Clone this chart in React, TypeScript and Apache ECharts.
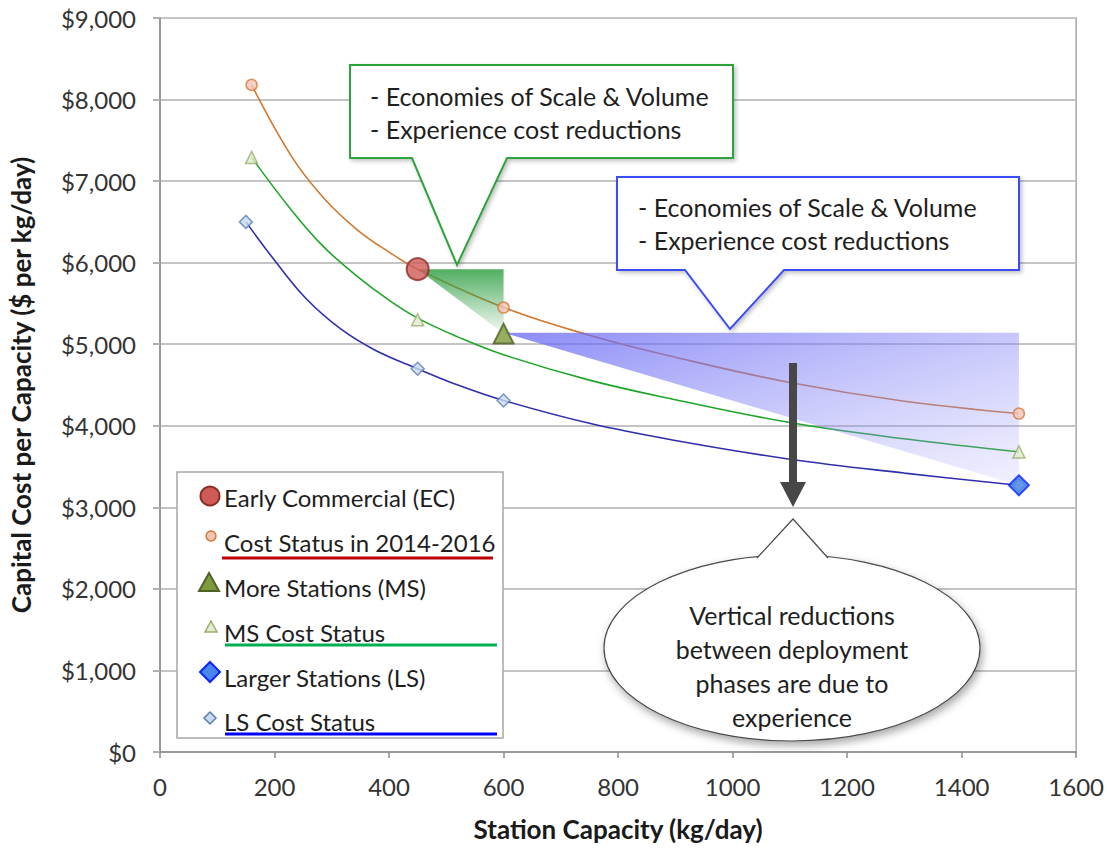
import React, { useEffect, useRef } from "react";
import * as echarts from "echarts";

// ---- data ----
const ecPoint = [[450, 5920]];
const costStatus = [[160, 8180], [600, 5450], [1500, 4150]];
const msPoint = [[600, 5130]];
const msCostStatus = [[160, 7290], [450, 5300], [1500, 3680]];
const lsPoint = [[1500, 3270]];
const lsCostStatus = [[150, 6500], [450, 4700], [600, 4310], [1500, 3270]];

const costTrend = [[160, 8180], [230, 7300], [285, 6800], [345, 6400], [400, 6130], [450, 5920], [600, 5450], [750, 5110], [900, 4840], [1100, 4530], [1300, 4300], [1500, 4150]];
const msTrend = [[160, 7290], [230, 6640], [285, 6200], [345, 5830], [400, 5540], [450, 5320], [520, 5090], [600, 4870], [750, 4560], [900, 4320], [1100, 4040], [1300, 3840], [1500, 3680]];
const lsTrend = [[150, 6500], [200, 6030], [255, 5560], [315, 5190], [375, 4930], [450, 4700], [520, 4500], [600, 4310], [750, 4030], [900, 3820], [1100, 3590], [1300, 3420], [1500, 3270]];

const ecToMsWedge = [[450, 5920], [600, 5920], [600, 5130]];
const msToLsWedge = [[600, 5140], [1500, 5140], [1500, 3270]];

const legendNames = ["Early Commercial (EC)", "Cost Status in 2014-2016", "More Stations (MS)", "MS Cost Status", "Larger Stations (LS)", "LS Cost Status"];
const xTitle = "Station Capacity (kg/day)";
const yTitle = "Capital Cost per Capacity ($ per kg/day)";
const calloutLines = ["- Economies of Scale & Volume", "- Experience cost reductions"];
const ellipseLines = ["Vertical reductions", "between deployment", "phases are due to", "experience"];

const FONT = "Lato, 'Open Sans', sans-serif";

function fmtDollar(v: number) {
  return "$" + String(v).replace(/\B(?=(\d{3})+(?!\d))/g, ",");
}

function wedgeSeries(name: string, pts: number[][], fill: any) {
  return {
    type: "custom",
    name,
    z: 3,
    silent: true,
    clip: false,
    data: [0],
    renderItem: (_p: any, api: any) => ({
      type: "polygon",
      shape: { points: pts.map((p) => api.coord(p)) },
      style: { fill },
    }),
  };
}

export default function App() {
  const ref = useRef<HTMLDivElement>(null);
  useEffect(() => {
    if (!ref.current) return;
    const chart = echarts.init(ref.current, null, { renderer: "svg" });

    const txt = (x: number, y: number, t: string, extra: any = {}) => ({
      type: "text",
      x,
      y,
      z: 120,
      style: { text: t, fontFamily: FONT, fontSize: 25, fill: "#1e1e1e", verticalAlign: "middle", ...extra },
    });

    const legendRows = [497, 542, 587, 632, 677, 721];
    const graphics: any[] = [];

    // green callout
    graphics.push({
      type: "polygon",
      z: 110,
      shape: { points: [[350, 65], [733, 65], [733, 158], [507, 158], [457, 265], [412, 158], [350, 158]] },
      style: { fill: "#ffffff", stroke: "#2ea33a", lineWidth: 2, shadowBlur: 4, shadowOffsetX: 2, shadowOffsetY: 2, shadowColor: "rgba(0,0,0,0.25)" },
    });
    graphics.push(txt(370, 96, calloutLines[0]));
    graphics.push(txt(370, 129, calloutLines[1]));
    // blue callout
    graphics.push({
      type: "polygon",
      z: 110,
      shape: { points: [[617, 177], [1019, 177], [1019, 270], [784, 270], [730, 329], [685, 270], [617, 270]] },
      style: { fill: "#ffffff", stroke: "#3b4cf5", lineWidth: 2, shadowBlur: 4, shadowOffsetX: 2, shadowOffsetY: 2, shadowColor: "rgba(0,0,0,0.25)" },
    });
    graphics.push(txt(638, 207, calloutLines[0]));
    graphics.push(txt(638, 240, calloutLines[1]));
    // arrow
    graphics.push({
      type: "polygon",
      z: 110,
      shape: { points: [[789, 363], [797, 363], [797, 482], [806, 482], [793, 507], [780, 482], [789, 482]] },
      style: { fill: "#474747" },
    });
    // ellipse callout
    graphics.push({
      type: "ellipse",
      z: 110,
      shape: { cx: 792, cy: 648, rx: 188, ry: 93 },
      style: { fill: "#ffffff", stroke: "#4a4a4a", lineWidth: 1.2, shadowBlur: 8, shadowOffsetX: 2, shadowOffsetY: 4, shadowColor: "rgba(0,0,0,0.35)" },
    });
    graphics.push({
      type: "polygon",
      z: 111,
      shape: { points: [[757, 558], [793, 519], [828, 558], [828, 562], [757, 562]] },
      style: { fill: "#ffffff" },
    });
    graphics.push({
      type: "polyline",
      z: 112,
      shape: { points: [[757, 558], [793, 519], [828, 558]] },
      style: { stroke: "#4a4a4a", lineWidth: 1.2, fill: null },
    });
    ellipseLines.forEach((l, i) => graphics.push(txt(792, 615 + i * 34, l, { align: "center" })));

    // legend
    graphics.push({
      type: "rect",
      z: 105,
      shape: { x: 177, y: 472, width: 326, height: 266 },
      style: { fill: "#ffffff", stroke: "#a6a6a6", lineWidth: 1.5 },
    });
    const lx = 224;
    legendNames.forEach((n, i) => graphics.push(txt(lx, legendRows[i], n, { fontSize: 24 })));
    // legend symbols
    graphics.push({ type: "circle", z: 115, shape: { cx: 210, cy: 496, r: 9.5 }, style: { fill: "#cf5b57", stroke: "#8c2b28", lineWidth: 2 } });
    graphics.push({ type: "circle", z: 115, shape: { cx: 211, cy: 536, r: 5 }, style: { fill: "#f2c4b4", stroke: "#d5783a", lineWidth: 1.5 } });
    graphics.push({ type: "polygon", z: 115, shape: { points: [[209, 573], [219, 591], [199, 591]] }, style: { fill: "#7f9a3c", stroke: "#4e6127", lineWidth: 2 } });
    graphics.push({ type: "polygon", z: 115, shape: { points: [[211, 621], [217, 632], [205, 632]] }, style: { fill: "#e2ebd0", stroke: "#98ad6b", lineWidth: 1.5 } });
    graphics.push({ type: "polygon", z: 115, shape: { points: [[210, 662], [220, 672], [210, 682], [200, 672]] }, style: { fill: "#4a86e8", stroke: "#0a24ff", lineWidth: 2 } });
    graphics.push({ type: "polygon", z: 115, shape: { points: [[210, 712], [216, 718], [210, 724], [204, 718]] }, style: { fill: "#c9daf0", stroke: "#5a7eb0", lineWidth: 1.5 } });
    // underlines
    graphics.push({ type: "line", z: 115, shape: { x1: 222, y1: 558, x2: 493, y2: 558 }, style: { stroke: "#c00000", lineWidth: 3 } });
    graphics.push({ type: "line", z: 115, shape: { x1: 225, y1: 645, x2: 497, y2: 645 }, style: { stroke: "#00b050", lineWidth: 3 } });
    graphics.push({ type: "line", z: 115, shape: { x1: 225, y1: 734, x2: 497, y2: 734 }, style: { stroke: "#0000ff", lineWidth: 3 } });

    const greenFill = new echarts.graphic.LinearGradient(0, 0, 0, 1, [
      { offset: 0, color: "rgba(50,160,70,0.85)" },
      { offset: 1, color: "rgba(50,160,70,0.05)" },
    ]);
    const blueFill = new echarts.graphic.LinearGradient(0, 0, 1, 1, [
      { offset: 0, color: "rgba(100,100,245,0.75)" },
      { offset: 1, color: "rgba(160,160,250,0.15)" },
    ]);

    const option: any = {
      animation: false,
      grid: { left: 160, top: 18, right: 30, bottom: 96, show: true, borderColor: "#a6a6a6", borderWidth: 1.5 },
      xAxis: {
        type: "value",
        min: 0,
        max: 1600,
        interval: 200,
        name: xTitle,
        nameLocation: "middle",
        nameGap: 64,
        nameTextStyle: { fontFamily: FONT, fontWeight: "bold", fontSize: 26, color: "#1a1a1a" },
        axisLine: { show: true, lineStyle: { color: "#8c8c8c", width: 1.5 } },
        axisTick: { show: true, length: 6, lineStyle: { color: "#8c8c8c", width: 1.5 } },
        axisLabel: { fontFamily: FONT, fontSize: 24, color: "#333333", margin: 22, formatter: (v: number) => String(v) },
        splitLine: { show: false },
      },
      yAxis: {
        type: "value",
        min: 0,
        max: 9000,
        interval: 1000,
        name: yTitle,
        nameLocation: "middle",
        nameGap: 126,
        nameTextStyle: { fontFamily: FONT, fontWeight: "bold", fontSize: 26, color: "#1a1a1a" },
        axisLine: { show: true, lineStyle: { color: "#8c8c8c", width: 1.5 } },
        axisTick: { show: true, length: 7, lineStyle: { color: "#b0b0b0", width: 2 } },
        axisLabel: { fontFamily: FONT, fontSize: 24, color: "#333333", margin: 24, formatter: (v: number) => fmtDollar(v) },
        splitLine: { show: true, lineStyle: { color: "#c4c4c4", width: 2 } },
      },
      series: [
        { type: "line", name: "Cost trend", data: costTrend, smooth: 0.4, showSymbol: false, symbol: "none", z: 2, lineStyle: { color: "#d2782f", width: 1.6 } },
        { type: "line", name: "MS trend", data: msTrend, smooth: 0.4, showSymbol: false, symbol: "none", z: 2, lineStyle: { color: "#1fa52a", width: 1.6 } },
        { type: "line", name: "LS trend", data: lsTrend, smooth: 0.4, showSymbol: false, symbol: "none", z: 2, lineStyle: { color: "#2f2fae", width: 1.6 } },
        wedgeSeries("EC to MS", ecToMsWedge, greenFill),
        wedgeSeries("MS to LS", msToLsWedge, blueFill),
        { type: "scatter", name: legendNames[1], data: costStatus, symbol: "circle", symbolSize: 11, z: 5, itemStyle: { color: "#f2c4b4", borderColor: "#d5783a", borderWidth: 1.5 } },
        { type: "scatter", name: legendNames[3], data: msCostStatus, symbol: "triangle", symbolSize: 12, z: 5, itemStyle: { color: "#e2ebd0", borderColor: "#98ad6b", borderWidth: 1.5 } },
        { type: "scatter", name: legendNames[5], data: lsCostStatus, symbol: "diamond", symbolSize: 13, z: 5, itemStyle: { color: "#c9daf0", borderColor: "#5a7eb0", borderWidth: 1.5 } },
        { type: "scatter", name: legendNames[0], data: ecPoint, symbol: "circle", symbolSize: 22, z: 6, itemStyle: { color: "#cf5b57", borderColor: "#8c2b28", borderWidth: 2 } },
        { type: "scatter", name: legendNames[2], data: msPoint, symbol: "triangle", symbolSize: 20, z: 6, itemStyle: { color: "#7f9a3c", borderColor: "#4e6127", borderWidth: 2 } },
        { type: "scatter", name: legendNames[4], data: lsPoint, symbol: "diamond", symbolSize: 20, z: 6, itemStyle: { color: "#4a86e8", borderColor: "#0a24ff", borderWidth: 2 } },
      ],
      graphic: graphics,
    };
    chart.setOption(option);
    return () => chart.dispose();
  }, []);
  return <div ref={ref} style={{ position: "fixed", left: 0, top: 0, width: 1107, height: 848, background: "#ffffff" }} />;
}
